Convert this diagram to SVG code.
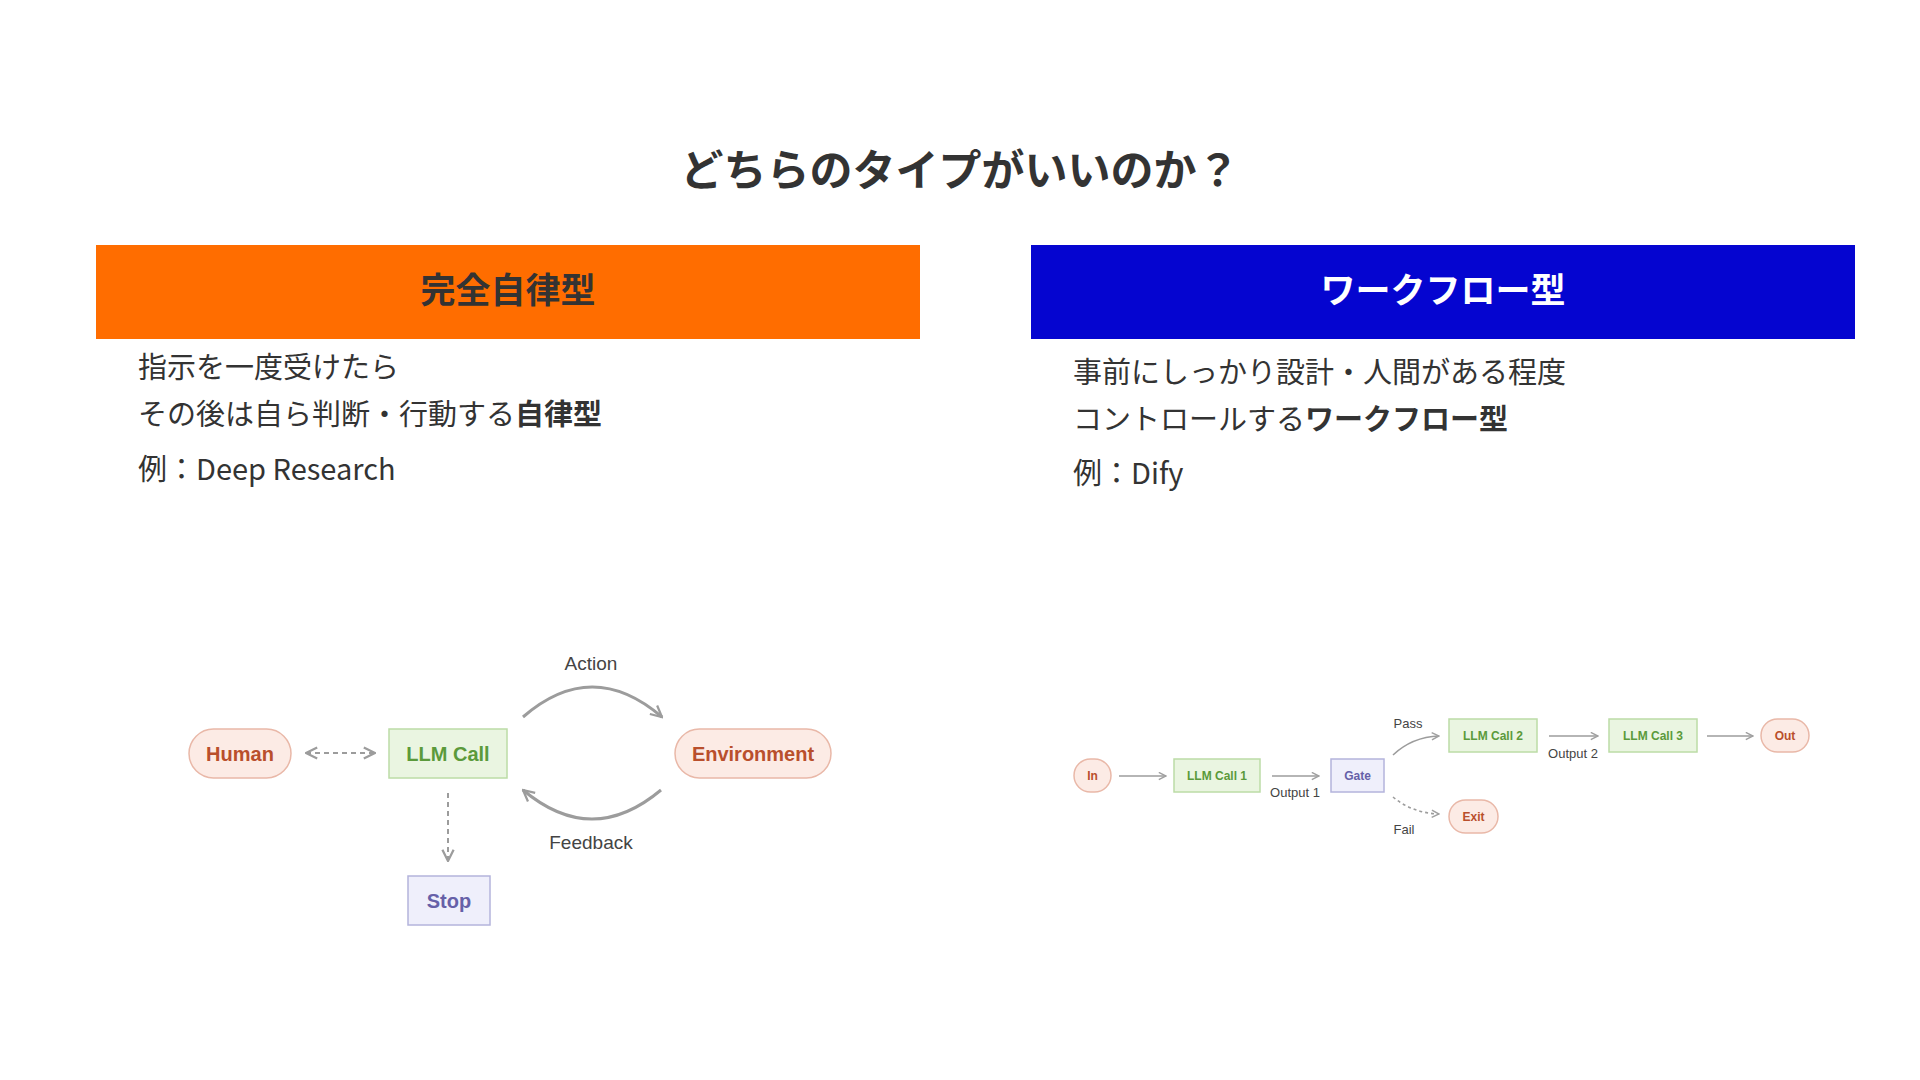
<svg xmlns="http://www.w3.org/2000/svg" width="1920" height="1080" viewBox="0 0 1920 1080">
<style>
.jp{font-family:"Noto Sans CJK JP","Noto Sans CJK SC",sans-serif;fill:#333}
.title{font-size:43px;font-weight:700;text-anchor:middle}
.head{font-size:35px;font-weight:700;text-anchor:middle}
.body{font-size:29px}
.b{font-weight:700}
.en{font-family:"Liberation Sans",Arial,sans-serif}
.nt{font-weight:700;text-anchor:middle;dominant-baseline:central}
.big{font-size:20px}
.sm{font-size:12px}
.lbl{fill:#444;text-anchor:middle}
.pink{fill:#fcebe5;stroke:#e9b8a8;stroke-width:1.5}
.green{fill:#eaf5e1;stroke:#bcdca6;stroke-width:1.5}
.purple{fill:#efeffb;stroke:#b4b4dc;stroke-width:1.5}
.tr{fill:#b94f2c}
.tg{fill:#5b9a3b}
.tp{fill:#6660a8}
.c{fill:none;stroke:#9c9c9c}
</style>
<defs>
<marker id="ahL" viewBox="0 0 10 10" refX="9" refY="5" markerWidth="14" markerHeight="14" markerUnits="userSpaceOnUse" orient="auto-start-reverse"><path d="M1,1 L9,5 L1,9" fill="none" stroke="#9c9c9c" stroke-width="1.6"/></marker>
<marker id="ahS" viewBox="0 0 10 10" refX="9" refY="5" markerWidth="9" markerHeight="9" markerUnits="userSpaceOnUse" orient="auto-start-reverse"><path d="M1,1 L9,5 L1,9" fill="none" stroke="#a0a0a0" stroke-width="1.6"/></marker>
</defs>
<rect width="1920" height="1080" fill="#fff"/>
<text class="jp title" x="960" y="186">どちらのタイプがいいのか？</text>
<g id="header-left"><rect x="96" y="245" width="824" height="94" fill="#ff6d00"/><text class="jp head" x="508" y="303">完全自律型</text></g>
<g id="header-right"><rect x="1031" y="245" width="824" height="94" fill="#0505d0"/><text class="jp head" x="1443" y="303" style="fill:#fff">ワークフロー型</text></g>
<g id="text-left" class="jp body">
<text x="138" y="378">指示を一度受けたら</text>
<text x="138" y="425">その後は自ら判断・行動する<tspan class="b">自律型</tspan></text>
<text x="138" y="480">例：Deep Research</text>
</g>
<g id="text-right" class="jp body">
<text x="1073" y="383">事前にしっかり設計・人間がある程度</text>
<text x="1073" y="430">コントロールする<tspan class="b">ワークフロー型</tspan></text>
<text x="1073" y="484">例：Dify</text>
</g>
<g id="connectors">
<line class="c" x1="306" y1="753" x2="375" y2="753" stroke-width="2" stroke-dasharray="5 4" marker-start="url(#ahL)" marker-end="url(#ahL)"/>
<line class="c" x1="448" y1="793" x2="448" y2="861" stroke-width="2" stroke-dasharray="5 4" marker-end="url(#ahL)"/>
<path class="c" d="M523,717 Q592,657 662,717" stroke-width="3" marker-end="url(#ahL)"/>
<path class="c" d="M661,790 Q592,848 523,790" stroke-width="3" marker-end="url(#ahL)"/>
<line class="c" x1="1119" y1="776" x2="1166" y2="776" stroke-width="1.6" marker-end="url(#ahS)"/>
<line class="c" x1="1272" y1="776" x2="1319" y2="776" stroke-width="1.6" marker-end="url(#ahS)"/>
<path class="c" d="M1393,755 Q1412,737 1439,736" stroke-width="1.6" marker-end="url(#ahS)"/>
<path class="c" d="M1393,797 Q1412,813 1439,814" stroke-width="1.6" stroke-dasharray="3 3" marker-end="url(#ahS)"/>
<line class="c" x1="1549" y1="736" x2="1598" y2="736" stroke-width="1.6" marker-end="url(#ahS)"/>
<line class="c" x1="1707" y1="736" x2="1753" y2="736" stroke-width="1.6" marker-end="url(#ahS)"/>
<g class="en lbl">
<text x="591" y="670" font-size="19">Action</text>
<text x="591" y="849" font-size="19">Feedback</text>
<text x="1295" y="797" font-size="13">Output 1</text>
<text x="1408" y="728" font-size="13">Pass</text>
<text x="1404" y="834" font-size="13">Fail</text>
<text x="1573" y="758" font-size="13">Output 2</text>
</g>
</g>
<g id="human"><rect class="pink" x="189" y="729" width="102" height="49" rx="24.5"/><text class="en nt big tr" x="240" y="754">Human</text></g>
<g id="llm-call"><rect class="green" x="389" y="729" width="118" height="49"/><text class="en nt big tg" x="448" y="754">LLM Call</text></g>
<g id="environment"><rect class="pink" x="675" y="729" width="156" height="49" rx="24.5"/><text class="en nt big tr" x="753" y="754">Environment</text></g>
<g id="stop"><rect class="purple" x="408" y="876" width="82" height="49"/><text class="en nt big tp" x="449" y="901">Stop</text></g>
<g id="in"><rect class="pink" x="1074" y="759" width="37" height="33" rx="16.5"/><text class="en nt sm tr" x="1092.5" y="776">In</text></g>
<g id="llm-call-1"><rect class="green" x="1174" y="759" width="86" height="33"/><text class="en nt sm tg" x="1217" y="776">LLM Call 1</text></g>
<g id="gate"><rect class="purple" x="1331" y="759" width="53" height="33"/><text class="en nt sm tp" x="1357.5" y="776">Gate</text></g>
<g id="llm-call-2"><rect class="green" x="1449" y="719" width="88" height="33"/><text class="en nt sm tg" x="1493" y="736">LLM Call 2</text></g>
<g id="llm-call-3"><rect class="green" x="1609" y="719" width="88" height="33"/><text class="en nt sm tg" x="1653" y="736">LLM Call 3</text></g>
<g id="out"><rect class="pink" x="1761" y="719" width="48" height="33" rx="16.5"/><text class="en nt sm tr" x="1785" y="736">Out</text></g>
<g id="exit"><rect class="pink" x="1449" y="800" width="49" height="33" rx="16.5"/><text class="en nt sm tr" x="1473.5" y="817">Exit</text></g>
</svg>
